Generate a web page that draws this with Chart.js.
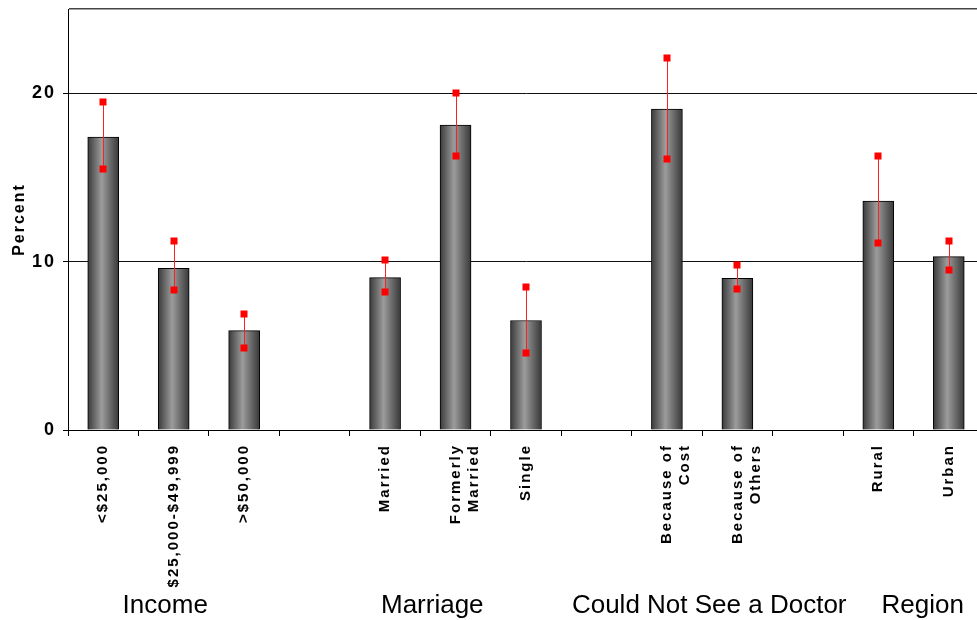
<!DOCTYPE html>
<html>
<head>
<meta charset="utf-8">
<script src="https://cdn.jsdelivr.net/npm/chart.js@4.4.1/dist/chart.umd.min.js"></script>
<style>
html, body { margin: 0; padding: 0; background: #fff; overflow: hidden; }
#wrap { width: 984px; height: 620px; position: relative; }
</style>
</head>
<body>
<div id="wrap"><canvas id="chartCI"></canvas></div>
<script>
// categories, blanks are the gaps between groups
const categories = ['<$25,000', '$25,000-$49,999', '>$50,000', '', 'Married', ['Formerly', 'Married'], 'Single', '',
    ['Because of', 'Cost'], ['Because of', 'Others'], '', 'Rural', 'Urban'];
const percent = [17.4, 9.6, 5.9, null, 9.05, 18.1, 6.5, null, 19.05, 9.0, null, 13.6, 10.3];
const upperCI = [19.5, 11.2, 6.9, null, 10.1, 20.0, 8.5, null, 22.1, 9.8, null, 16.3, 11.2];
const lowerCI = [15.5, 8.3, 4.85, null, 8.2, 16.3, 4.6, null, 16.1, 8.35, null, 11.1, 9.5];
const yTicks = [0, 10, 20];
const yMax = 25;
const groups = ['Income', 'Marriage', 'Could Not See a Doctor', 'Region'];
const groupAt = [0.88, 4.67, 8.6, 11.63]; // position in category units

Chart.defaults.font.family = 'Arial, "Liberation Sans", sans-serif';
Chart.defaults.color = '#000';

const spacing = {
    id: 'spacing',
    beforeDraw(chart) {
        chart.ctx.letterSpacing = '2px';
    }
};

const errorBars = {
    id: 'errorBars',
    afterDatasetsDraw(chart) {
        const {ctx, scales: {x, y}} = chart;
        ctx.save();
        ctx.strokeStyle = '#ff2020';
        ctx.fillStyle = '#ff0000';
        ctx.lineWidth = 1;
        upperCI.forEach((hi, i) => {
            if (hi == null) return;
            const px = Math.round(x.getPixelForValue(i)) + 0.5;
            const yHi = y.getPixelForValue(hi);
            const yLo = y.getPixelForValue(lowerCI[i]);
            ctx.beginPath();
            ctx.moveTo(px, yHi);
            ctx.lineTo(px, yLo);
            ctx.stroke();
            [yHi, yLo].forEach(py => ctx.fillRect(px - 4, Math.round(py) - 3.5, 7, 7));
        });
        ctx.restore();
    }
};

const groupLabels = {
    id: 'groupLabels',
    afterDraw(chart) {
        const {ctx, scales: {x}} = chart;
        ctx.save();
        ctx.letterSpacing = '0px';
        ctx.font = '26px Arial, "Liberation Sans", sans-serif';
        ctx.fillStyle = '#000';
        ctx.textAlign = 'center';
        ctx.textBaseline = 'middle';
        groups.forEach((g, i) => {
            const pos = x.getPixelForValue(0) + groupAt[i] * (x.getPixelForValue(1) - x.getPixelForValue(0));
            ctx.fillText(g, pos, 606);
        });
        ctx.restore();
    }
};

let ctxCI = document.querySelector('#chartCI').getContext('2d');
let chartCI = new Chart(ctxCI, {
    type: 'bar',
    data: {
        labels: categories,
        datasets: [{
            label: 'Percent',
            data: percent,
            backgroundColor(c) {
                const x = c.chart.scales.x;
                if (!x || c.dataIndex == null) return '#888';
                const cx = x.getPixelForValue(c.dataIndex);
                if (!Number.isFinite(cx)) return '#888';
                const g = c.chart.ctx.createLinearGradient(cx - 15.5, 0, cx + 15.5, 0);
                g.addColorStop(0, '#3a3a3a');
                g.addColorStop(0.45, '#9c9c9c');
                g.addColorStop(1, '#383838');
                return g;
            },
            borderColor: '#000',
            borderWidth: 1,
            barThickness: 31
        }]
    },
    options: {
        responsive: true,
        maintainAspectRatio: false,
        animation: false,
        plugins: {
            legend: { display: false },
            tooltip: { enabled: false }
        },
        layout: {
            padding: { top: 9, right: 0, bottom: 0, left: 0 }
        },
        scales: {
            x: {
                grid: {
                    offset: true,
                    drawOnChartArea: false,
                    color: '#000',
                    tickLength: 6
                },
                border: { color: '#000', width: 1 },
                ticks: {
                    minRotation: 90,
                    maxRotation: 90,
                    autoSkip: false,
                    padding: 8,
                    font: { size: 15, weight: 'bold' },
                    color: '#000'
                },
                afterFit(scale) { scale.height = 190; }
            },
            y: {
                min: 0,
                max: yMax,
                afterBuildTicks(scale) {
                    scale.ticks = yTicks.concat([yMax]).map(v => ({ value: v }));
                },
                grid: {
                    color: c => c.tick && c.tick.value === yMax ? '#444' : '#111',
                    tickColor: c => c.tick && c.tick.value === yMax ? 'rgba(0,0,0,0)' : '#000',
                    tickLength: 5,
                    lineWidth: c => c.tick && c.tick.value === yMax ? 1.5 : 1
                },
                border: { color: '#000', width: 1 },
                ticks: {
                    callback: v => v === yMax ? '' : v,
                    padding: 7,
                    font: { size: 18, weight: 'bold' },
                    color: '#000'
                },
                title: {
                    display: true,
                    text: 'Percent',
                    font: { size: 16, weight: 'bold' },
                    padding: { top: 10, bottom: 0 }
                },
                afterFit(scale) {
                    scale.width = 68;
                    scale.paddingTop = 0;
                    scale.paddingBottom = 0;
                }
            }
        }
    },
    plugins: [spacing, errorBars, groupLabels]
});
</script>
</body>
</html>
